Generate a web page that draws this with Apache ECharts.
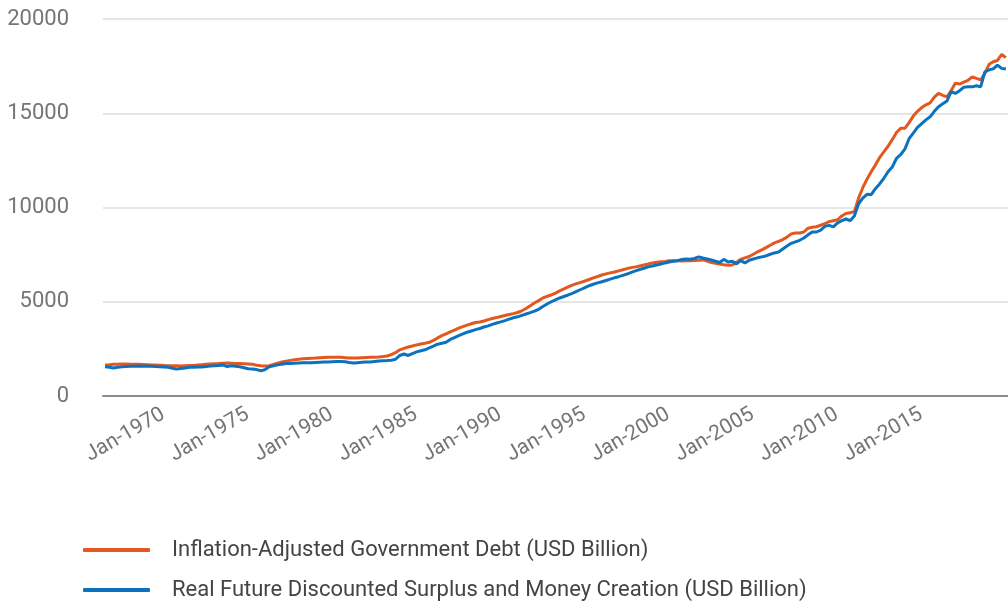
<!DOCTYPE html>
<html>
<head>
<meta charset="utf-8">
<script src="https://cdn.jsdelivr.net/npm/echarts@6/dist/echarts.min.js"></script>
<style>
html,body{margin:0;padding:0;background:#fff;}
#chart{width:1008px;height:601px;}
</style>
</head>
<body>
<div id="chart"></div>
<script>
// Quarterly observations, Jan-1965 .. Jul-2018
var startYear = 1965;
var quarterMonths = ['Jan', 'Apr', 'Jul', 'Oct'];
var seriesNames = ['Inflation-Adjusted Government Debt (USD Billion)', 'Real Future Discounted Surplus and Money Creation (USD Billion)'];

var debt = [
  1650,1660,1680,1690, 1700,1700,1690,1680, 1680,1670,1660,1650, 1640,1630,1620,1610, 1600,1600,1590,1610,
  1620,1620,1640,1660, 1680,1700,1710,1720, 1740,1750,1740,1730, 1720,1710,1700,1680, 1630,1600,1590,1610,
  1680,1740,1800,1850, 1890,1920,1950,1970, 1990,2000,2010,2030, 2040,2050,2060,2060, 2050,2030,2010,2010,
  2020,2030,2040,2050, 2060,2070,2090,2120, 2200,2300,2450,2530, 2600,2650,2710,2760, 2800,2850,2950,3080,
  3200,3300,3400,3500, 3600,3680,3760,3830, 3900,3930,3980,4050, 4110,4160,4220,4270, 4320,4370,4430,4520,
  4640,4790,4930,5060, 5200,5290,5360,5460, 5580,5680,5790,5880, 5960,6030,6100,6180, 6270,6340,6420,6480,
  6530,6580,6640,6700, 6760,6810,6850,6900, 6950,7000,7060,7090, 7120,7140,7170,7170, 7170,7160,7170,7180,
  7190,7200,7220,7160, 7080,7040,7000,6960, 6940,6950,7100,7250, 7330,7400,7520,7650, 7750,7870,8000,8120,
  8200,8300,8430,8600, 8650,8650,8700,8900, 8950,8980,9060,9150, 9250,9300,9350,9550, 9680,9720,9780,10500,
  11050,11500,11900,12250, 12650,12950,13250,13600, 13980,14200,14200,14500, 14850,15100,15300,15450, 15550,15850,16050,15950,
  15870,16200,16600,16550, 16650,16750,16930,16850, 16770,17100,17600,17730, 17800,18120,17950
];

var surplus = [
  1550,1530,1490,1520, 1550,1570,1580,1580, 1590,1580,1590,1580, 1560,1550,1540,1520, 1470,1430,1460,1490,
  1520,1530,1540,1540, 1570,1590,1600,1620, 1650,1560,1600,1580, 1550,1500,1450,1430, 1400,1340,1400,1550,
  1600,1650,1690,1720, 1730,1740,1750,1760, 1760,1770,1780,1790, 1800,1810,1820,1830, 1830,1820,1780,1750,
  1770,1790,1800,1800, 1830,1860,1870,1880, 1900,1950,2150,2230, 2150,2250,2340,2400, 2450,2550,2650,2750,
  2800,2850,3000,3100, 3200,3300,3380,3450, 3520,3580,3660,3720, 3800,3870,3930,4000, 4080,4150,4200,4280,
  4350,4420,4500,4600, 4750,4880,5000,5100, 5200,5280,5360,5450, 5550,5650,5750,5850, 5930,6000,6060,6130,
  6200,6270,6330,6400, 6470,6560,6640,6710, 6780,6850,6900,6950, 7000,7060,7110,7150, 7180,7240,7270,7260,
  7300,7380,7320,7270, 7220,7150,7080,7250, 7110,7150,7010,7180, 7060,7200,7270,7330, 7380,7430,7520,7590,
  7640,7800,7960,8100, 8180,8260,8380,8550, 8700,8700,8800,9000, 9050,8970,9180,9300, 9390,9300,9550,10200,
  10500,10700,10680,11000, 11250,11550,11900,12150, 12600,12800,13100,13650, 13950,14250,14450,14650, 14810,15100,15350,15500,
  15650,16150,16050,16200, 16380,16400,16400,16460, 16400,17200,17300,17360, 17550,17380,17350
];

var yTicks = [0, 5000, 10000, 15000, 20000];
var labelYears = [1970, 1975, 1980, 1985, 1990, 1995, 2000, 2005, 2010, 2015];

var categories = [];
for (var i = 0; i < debt.length; i++) {
  categories.push(quarterMonths[i % 4] + '-' + (startYear + Math.floor(i / 4)));
}
var labelSet = {};
labelYears.forEach(function (y) { labelSet['Jan-' + y] = true; });
function showTick(index, value) { return !!labelSet[categories[index]]; }

var chart = echarts.init(document.getElementById('chart'), null, {renderer: 'canvas'});
var font = 'Roboto, "Noto Sans", sans-serif';
chart.setOption({
  animation: false,
  color: ['#E2581F', '#0B72C0'],
  grid: {left: 103, right: 0, top: 19, bottom: 205, containLabel: false},
  xAxis: {
    type: 'category',
    data: categories,
    boundaryGap: true,
    axisLine: {lineStyle: {color: '#8c8c8c', width: 2}},
    axisTick: {alignWithLabel: true, interval: showTick, length: 7, lineStyle: {color: '#8c8c8c', width: 2}},
    axisLabel: {
      interval: showTick, rotate: 30, margin: 2, padding: [0, 30, 0, 0],
      color: '#757575', fontSize: 21, fontFamily: font
    },
    splitLine: {show: false}
  },
  yAxis: {
    type: 'value',
    min: yTicks[0], max: yTicks[yTicks.length - 1], interval: 5000,
    axisLine: {show: false},
    axisTick: {show: false},
    axisLabel: {margin: 34, color: '#757575', fontSize: 22, fontFamily: font, formatter: function (v) { return String(v); }},
    splitLine: {lineStyle: {color: '#e6e6e6', width: 2}}
  },
  legend: {
    orient: 'vertical',
    left: 83, top: 538, height: 66,
    icon: 'roundRect',
    itemWidth: 67, itemHeight: 4, itemGap: 16,
    padding: 0,
    textStyle: {fontSize: 22, color: '#444', fontFamily: font, lineHeight: 24, padding: [0, 0, 0, 17]},
    data: seriesNames
  },
  series: [
    {name: seriesNames[0], type: 'line', data: debt, showSymbol: false, symbol: 'none', lineStyle: {width: 3}},
    {name: seriesNames[1], type: 'line', data: surplus, showSymbol: false, symbol: 'none', lineStyle: {width: 3}}
  ]
});
</script>
</body>
</html>
